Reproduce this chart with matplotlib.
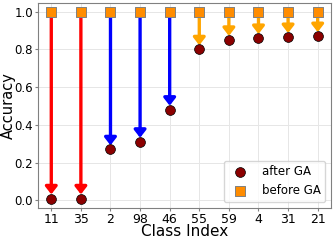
import numpy as np
import matplotlib
matplotlib.use("Agg")
import matplotlib.pyplot as plt

classes = ["11", "35", "2", "98", "46", "55", "59", "4", "31", "21"]
before_ga = [1.0, 1.0, 1.0, 1.0, 1.0, 1.0, 1.0, 1.0, 1.0, 1.0]
after_ga = [0.01, 0.01, 0.27, 0.31, 0.48, 0.80, 0.85, 0.86, 0.865, 0.87]
arrow_colors = ["red", "red", "blue", "blue", "blue",
                "orange", "orange", "orange", "orange", "orange"]

fig, ax = plt.subplots(figsize=(3.33, 2.41), dpi=100)
x = np.arange(len(classes))

# arrows from before to after
for i in range(len(classes)):
    ax.annotate("", xy=(x[i], after_ga[i] + 0.022), xytext=(x[i], before_ga[i]),
                arrowprops=dict(arrowstyle="-|>,head_width=0.35,head_length=0.45",
                                color=arrow_colors[i], lw=2.4, shrinkA=0, shrinkB=0),
                zorder=2)

ax.scatter(x, after_ga, s=50, color="darkred", edgecolor="black", linewidth=0.5,
           zorder=3, label="after GA")
ax.scatter(x, before_ga, s=50, marker="s", color="darkorange", edgecolor="gray",
           linewidth=0.7, zorder=3, label="before GA")

ax.set_xticks(x)
ax.set_xticklabels(classes, fontsize=9)
ax.tick_params(axis="y", labelsize=8.5)
ax.set_yticks([0.0, 0.2, 0.4, 0.6, 0.8, 1.0])
ax.set_xlim(-0.45, 9.45)
ax.set_ylim(-0.04, 1.047)
ax.set_xlabel("Class Index", fontsize=11, labelpad=-1)
ax.set_ylabel("Accuracy", fontsize=10.5)
ax.yaxis.set_label_coords(-0.076, 0.5)
ax.grid(True, color="#e6e6e6", lw=0.7)
ax.set_axisbelow(True)
for s in ax.spines.values():
    s.set_color("gray")
ax.tick_params(colors="black", length=2, color="gray", pad=1.5)
ax.legend(loc="lower right", fontsize=8.5, handletextpad=0.8, borderpad=0.4)

plt.subplots_adjust(left=0.114, right=0.994, top=0.988, bottom=0.137)
plt.savefig("out.png")
